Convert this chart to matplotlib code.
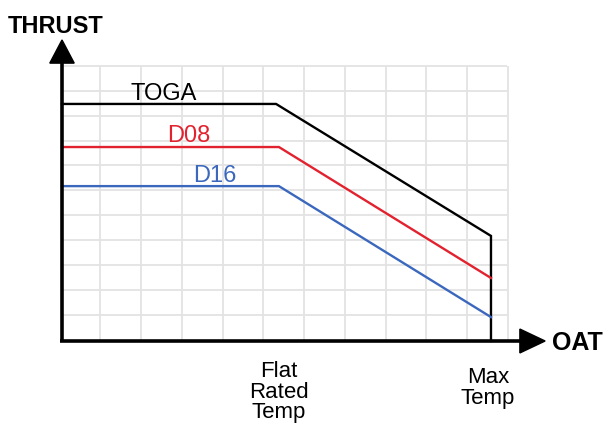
import matplotlib
matplotlib.use("Agg")
import matplotlib.pyplot as plt
from matplotlib.patches import Polygon
import numpy as np

# Data (x in grid units of OAT, y in grid units of thrust)
series_names = ["TOGA", "D08", "D16"]
series_colors = ["#000000", "#e2222e", "#3b68bd"]
toga_x = [0.0, 5.26, 10.54, 10.54]
toga_y = [9.52, 9.52, 4.22, 0.0]
d08_x = [0.0, 5.33, 10.54]
d08_y = [7.79, 7.79, 2.53]
d16_x = [0.0, 5.33, 10.54]
d16_y = [6.22, 6.22, 0.96]
x_labels = ["Flat\nRated\nTemp", "Max\nTemp"]
x_label_pos = [5.33, 10.47]
axis_titles = ["THRUST", "OAT"]

W, H, DPI = 614, 425, 100
fig = plt.figure(figsize=(W / DPI, H / DPI), dpi=DPI)
ax = fig.add_axes([0, 0, 1, 1])
ux, uy = 40.7, 24.9
ox, oy = 62, 341
ax.set_xlim(-ox / ux, (W - ox) / ux)
ax.set_ylim(-(H - oy) / uy, oy / uy)
ax.axis("off")

# grid
gx = np.arange(1, 12) - 0.05
gx[0] = 0.93
gy = np.arange(1, 12) + 0.05
gtop = 11.04
ax.vlines(gx, 0, gtop, color="#e3e3e3", lw=1.3, zorder=1)
ax.hlines(gy, 0, 10.93, color="#e3e3e3", lw=1.3, zorder=1)

# axes lines
ax.plot([0, 0], [0, 11.3], color="black", lw=2.6, zorder=4, solid_capstyle="butt")
ax.plot([-0.04, 11.3], [0, 0], color="black", lw=2.6, zorder=4, solid_capstyle="butt")
ax.add_patch(Polygon([[-0.30, 11.16], [0.30, 11.16], [0, 12.09]], closed=True,
                     color="black", zorder=5))
ax.add_patch(Polygon([[11.25, 0.48], [11.25, -0.48], [11.87, 0]], closed=True,
                     color="black", zorder=5))

# series
for xs, ys, c in [(toga_x, toga_y, series_colors[0]),
                  (d08_x, d08_y, series_colors[1]),
                  (d16_x, d16_y, series_colors[2])]:
    ax.plot(xs, ys, color=c, lw=1.7, zorder=3, solid_joinstyle="miter")

fam = ["Liberation Sans", "DejaVu Sans"]
ax.text(2.51, 9.68, series_names[0], color=series_colors[0], fontsize=17,
        family=fam, ha="center", va="baseline")
ax.text(3.11, 7.99, series_names[1], color=series_colors[1], fontsize=17,
        family=fam, ha="center", va="baseline")
ax.text(3.76, 6.39, series_names[2], color=series_colors[2], fontsize=17,
        family=fam, ha="center", va="baseline")

ax.text(-1.33, 12.37, axis_titles[0], fontsize=17, fontweight="bold",
        family=fam, ha="left", va="baseline")
ax.text(12.04, -0.36, axis_titles[1], fontsize=18, fontweight="bold",
        family=fam, ha="left", va="baseline")

nfam = ["Liberation Sans Narrow", "Liberation Sans", "DejaVu Sans"]
ax.text(x_label_pos[0], -0.80, x_labels[0], fontsize=16, family=nfam,
        ha="center", va="top", linespacing=0.98)
ax.text(x_label_pos[1], -1.06, x_labels[1], fontsize=16, family=nfam,
        ha="center", va="top", linespacing=0.98)

fig.savefig("out.png", dpi=DPI, facecolor="white")
